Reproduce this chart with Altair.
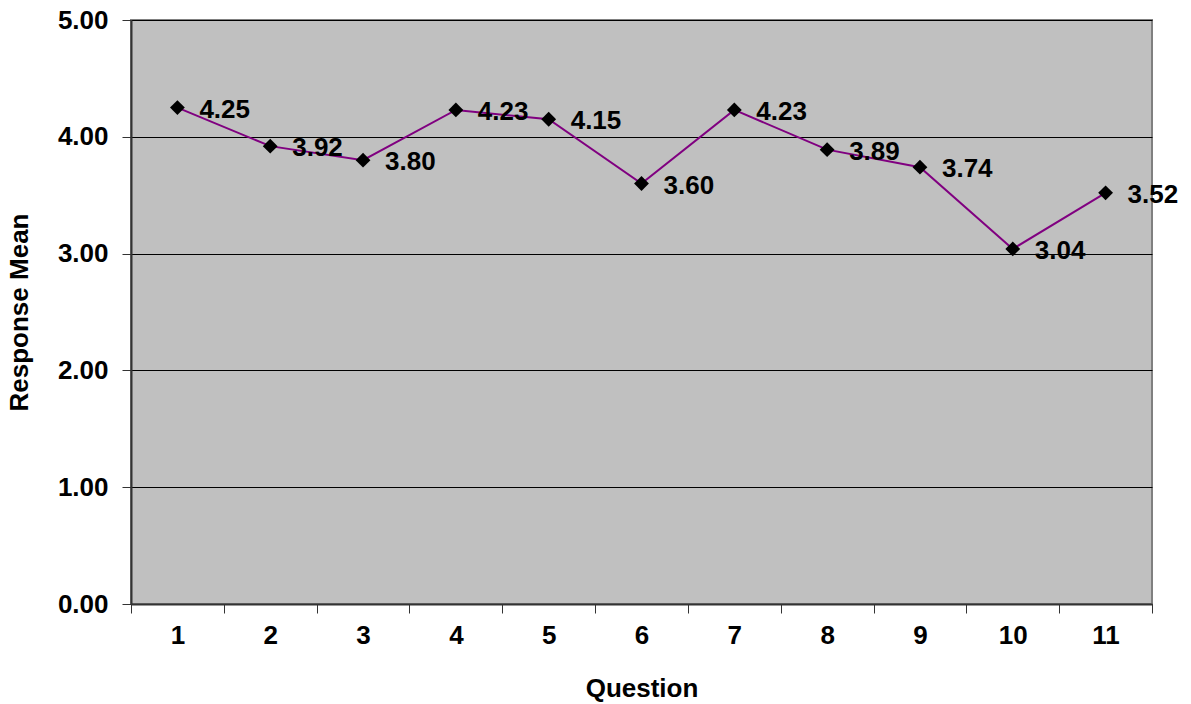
import altair as alt
import pandas as pd

questions = ["1", "2", "3", "4", "5", "6", "7", "8", "9", "10", "11"]
means = [4.25, 3.92, 3.80, 4.23, 4.15, 3.60, 4.23, 3.89, 3.74, 3.04, 3.52]

df = pd.DataFrame({"Question": questions, "Mean": means})
df["Label"] = [f"{v:.2f}" for v in means]

FONT = "Liberation Sans"
FS = 26

x_enc = alt.X(
    "Question:N",
    sort=questions,
    scale=alt.Scale(type="band", paddingInner=0, paddingOuter=0),
    axis=alt.Axis(
        title="Question",
        labelAngle=0,
        tickBand="extent",
        grid=False,
        tickSize=9,
        labelPadding=9,
        titlePadding=27,
    ),
)
y_enc = alt.Y(
    "Mean:Q",
    scale=alt.Scale(domain=[0, 5], nice=False),
    axis=alt.Axis(
        title="Response Mean",
        values=[0, 1, 2, 3, 4, 5],
        format=".2f",
        grid=True,
        gridColor="#000000",
        gridWidth=1,
        tickSize=9,
        labelPadding=14,
        titlePadding=25,
    ),
)

base = alt.Chart(df).encode(x=x_enc, y=y_enc)

line = base.mark_line(color="#800080", strokeWidth=2)
points = base.mark_point(shape="diamond", filled=True, color="#000000", size=220, opacity=1)
labels = base.mark_text(
    align="left", baseline="middle", dx=22, dy=2,
    font=FONT, fontSize=FS, fontWeight="bold", color="#000000",
).encode(text="Label:N")

chart = (
    alt.layer(line, points, labels)
    .properties(
        width=1021,
        height=584,
        autosize=alt.AutoSizeParams(type="none"),
        padding={"left": 131, "top": 20, "right": 39, "bottom": 100},
        background="#FFFFFF",
    )
    .configure_view(fill="#C0C0C0", stroke="#808080", strokeWidth=2)
    .configure_axis(
        labelFont=FONT, labelFontSize=FS, labelFontWeight="bold", labelColor="#000000",
        titleFont=FONT, titleFontSize=FS, titleFontWeight="bold", titleColor="#000000",
        domainColor="#333333", domainWidth=2, tickColor="#333333", tickWidth=1,
    )
)

chart.save("out.html", embed_options={"renderer": "svg", "actions": False})
